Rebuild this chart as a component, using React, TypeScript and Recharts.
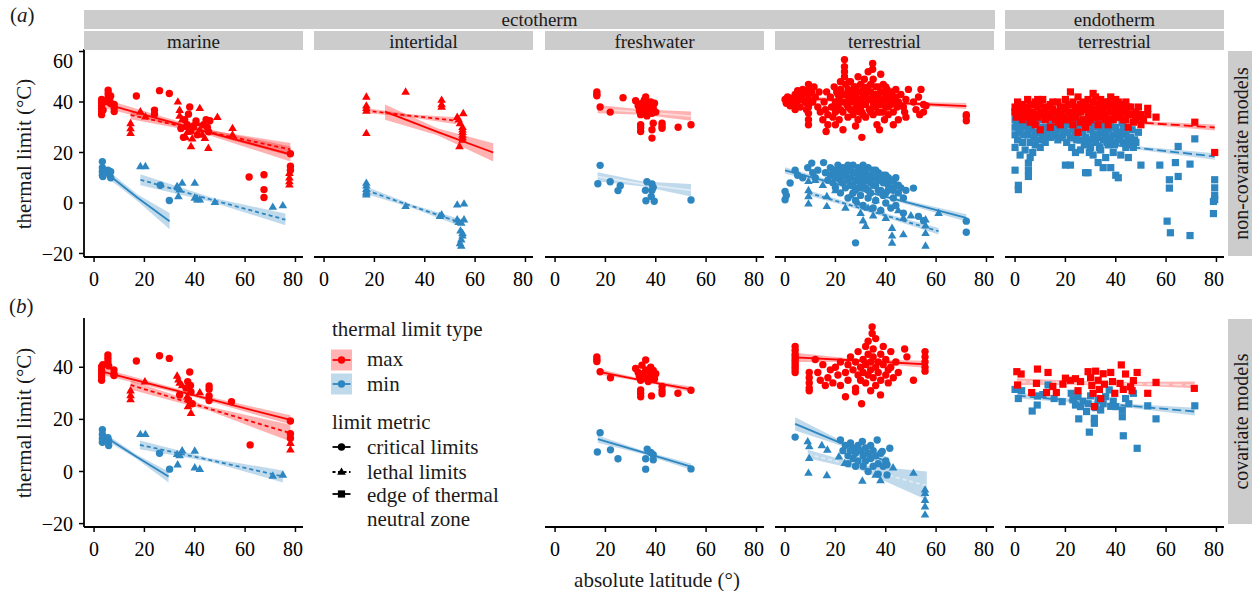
import React from "react";
import { ComposedChart, Scatter, Line, Area, XAxis, YAxis } from "recharts";

type Pt = [number, number];
type FitRow = [number, number, number, number]; // latitude, fit, lower, upper

const RED = "#FF0000";
const BLUE = "#2E86C1";
const FONT = '"Liberation Serif", "DejaVu Serif", "Times New Roman", serif';

const GROUPS = ["ectotherm", "endotherm"];
const HABITATS = ["marine", "intertidal", "freshwater", "terrestrial", "terrestrial"];
const MODELS = ["non-covariate models", "covariate models"];
const X_TICKS = [0, 20, 40, 60, 80];
const Y_TICKS = [
  [-20, 0, 20, 40, 60],
  [-20, 0, 20, 40],
];

// ---------- (a) non-covariate models ----------
const marineA_maxCrit: Pt[] = [
  [3, 35], [3, 36.2], [3, 37.4], [3, 38.6], [3, 39.8], [3, 41], [3.6, 36.8], [4, 40.2],
  [5.6, 44.7], [5.6, 43.3], [5.6, 41.9], [6.2, 40.6], [6.6, 42.4], [6.6, 39.4],
  [8, 39], [8, 37.6], [8, 36.2], [16.8, 42.4], [24, 36.8], [24, 35.2], [26, 44.5], [29.9, 43.4],
  [34.5, 29.5], [35.5, 26], [36, 33], [37, 31], [37.5, 35.2], [38, 38], [38.5, 28.5], [39.5, 30.5],
  [40.5, 32.5], [41, 27], [43.5, 31], [44.5, 33], [45, 30], [45.5, 28.2], [46, 32.6],
  [61.6, 10.3], [67.5, 11.2], [67.5, 5.3], [67.5, 2.2], [78, 19.5], [78, 14.6], [78, 13],
];
const marineA_maxLeth: Pt[] = [
  [14.5, 31.5], [14.5, 29.5], [14.5, 27.6], [18.4, 36.2], [20.4, 34.2], [33.3, 40.1], [34, 36.8],
  [34, 34.5], [35, 33], [36, 30], [36.5, 26], [37, 28], [38.5, 22.4], [39, 25.5], [42, 37.5],
  [41, 31.5], [42, 29], [43, 27], [44, 25.7], [45.4, 21.7], [44, 31], [49, 34], [55, 29.6],
  [55, 27], [77.6, 11.8], [77.6, 10], [77.6, 8.5], [77.6, 7.2],
];
const marineA_minCrit: Pt[] = [
  [3.3, 16.4], [3.3, 14], [3.3, 12.5], [3.3, 11], [3.5, 10.5], [5.5, 13], [6, 11.6], [6.6, 10],
  [6.6, 12.4], [26.3, 7], [29.9, 1],
];
const marineA_minLeth: Pt[] = [
  [18.4, 14.5], [20.4, 14.5], [33, 6.6], [34, 5.3], [35, 7.9], [33.5, 2.6], [40, 7.9], [40, 2],
  [41, 1.3], [42, 1.3], [48, 0.3], [71, -1.6], [75, -1],
];
const marineA_fitMaxCrit: FitRow[] = [[4, 39.4, 37.6, 41.2], [41, 29.2, 28.3, 30.1], [78, 19.3, 16.4, 22.4]];
const marineA_fitMaxLeth: FitRow[] = [[14.5, 34.8, 33.2, 36.4], [46, 28, 27.2, 28.8], [78, 21.2, 18.6, 23.8]];
const marineA_fitMinCrit: FitRow[] = [[5, 11.8, 10.2, 13.4], [17, 2.3, 1, 3.6], [30, -7.2, -10.4, -4]];
const marineA_fitMinLeth: FitRow[] = [[18.4, 9.2, 7, 11.4], [47, 1.2, 0.3, 2.1], [76, -6.6, -8.8, -4.2]];

const interA_maxLeth: Pt[] = [
  [16.8, 42], [16.8, 38.5], [16.8, 37.5], [16.8, 36.5], [16.8, 27.6], [32.4, 44], [46.7, 40.8],
  [46.7, 39], [46.7, 38], [52.9, 34], [53.5, 33], [55.3, 35.5], [54, 31.5], [55, 30], [55, 29],
  [55, 28], [55, 27], [55, 26], [55, 25], [53.8, 22.4],
];
const interA_minLeth: Pt[] = [
  [16.8, 7.9], [16.8, 6.8], [16.8, 5.5], [16.8, 4.5], [16.8, 4], [16.8, 3.3], [32.4, -1.3],
  [46.7, -4.6], [46, -5.2], [52.9, -0.7], [55.6, -0.3], [52.9, -6.6], [53.5, -7.6], [55.6, -6.6],
  [54.5, -7.9], [54.2, -11], [55, -12], [55, -13], [54.5, -14.5], [54, -16], [54.5, -17],
];
const interA_fitMaxLeth: FitRow[] = [[16.5, 36.6, 35.6, 37.6], [34, 34.6, 34, 35.2], [52.5, 32.6, 31.2, 34]];
const interA_fitMaxCrit: FitRow[] = [[24.2, 36.2, 33, 39], [45, 28.2, 26.8, 29.6], [67.2, 20, 16.4, 23.7]];
const interA_fitMinLeth: FitRow[] = [[16.8, 5, 3.6, 6.4], [35, -1.3, -2, -0.6], [53.6, -7.6, -9, -6.2]];

const freshA_maxCrit: Pt[] = [
  [16.6, 44], [16.6, 43], [16.6, 42.5], [17.9, 38], [21.9, 36], [27, 41.7], [32, 40.5], [33, 38.5],
  [33.5, 36.5], [34, 35], [34.5, 39.5], [35, 37.5], [35.5, 40.8], [36, 42], [36, 36], [36.5, 34.5],
  [37, 38.5], [37.5, 36.8], [38, 40], [38.5, 35.5], [39, 37.5], [39.5, 39.5], [40, 36], [34, 31],
  [34, 29.8], [34, 28.3], [38.5, 29], [38.5, 25.7], [39, 31.6], [42.5, 31.6], [42.5, 30.5],
  [42.5, 29.6], [48.9, 30], [54, 31],
];
const freshA_minCrit: Pt[] = [
  [17.9, 14.9], [17, 7.6], [21.9, 8.4], [25.9, 6.8], [25, 4.9], [36.5, 8.4], [38.5, 7.5], [39, 6.2],
  [38.5, 5], [35.9, 5], [38.2, 2.6], [36.1, 0.9], [39.4, 0.7], [54, 1.2],
];
const freshA_fitMaxCrit: FitRow[] = [[16.9, 37.2, 35.5, 38.8], [35, 36, 35, 37], [54, 34.4, 32.6, 36.2]];
const freshA_fitMinCrit: FitRow[] = [[16.9, 10.4, 8.6, 12.2], [35, 7.5, 6.5, 8.5], [54, 5, 2.6, 7.5]];

const terrA_maxCrit: Pt[] = [
  [0, 41], [0.5, 39.5], [1, 42], [1.5, 40], [2, 41.5], [2, 38.5], [3.5, 40], [4, 43], [4, 37],
  [4.5, 39], [5, 42], [5, 44.5], [5, 40.5], [6, 38], [6.5, 41], [7, 45], [7, 43], [8, 40], [8.5, 37],
  [9, 39], [9.3, 47], [9.3, 45], [9.3, 43], [9.3, 41], [9.3, 38], [9.3, 35.5], [9.3, 33], [9.3, 31],
  [10.5, 44], [11, 40], [11.5, 46], [12, 42], [13, 38], [13.5, 44], [14, 36], [15, 33], [15.5, 40],
  [16, 37], [16.3, 28.3], [16.5, 44], [17, 35], [17, 31], [18, 42], [18.5, 38], [19, 34], [19.5, 46],
  [20, 40], [20, 36], [20, 31], [21, 43], [21, 38], [21.5, 33], [22, 48], [22, 45], [22.5, 40],
  [23, 36], [23, 29], [23.6, 56.8], [23.6, 54], [23.6, 52], [23.6, 50], [24, 47], [24, 43],
  [24.5, 39], [25, 45], [25, 34], [25.5, 41], [26, 37], [26, 48], [26.5, 44], [27, 40], [27, 35],
  [27.5, 46], [28, 42], [28, 30.5], [28.5, 38], [29, 50], [29, 44], [29, 33], [30, 41], [30, 47],
  [30.5, 26], [30.5, 36], [31, 43], [31, 39], [31.5, 49], [32, 45], [32, 34], [33, 41], [33, 52],
  [33.5, 37], [34, 44], [34, 47], [34.8, 55.3], [34.8, 53], [35, 40], [35, 35], [35, 49], [36, 43],
  [36, 38], [36.5, 31], [37, 46], [37, 41], [37.5, 29], [38, 44], [38, 36], [38, 51], [39, 40],
  [39, 47], [39.5, 33], [40, 43], [40, 38], [40.5, 45], [41, 35], [41, 41], [42, 39], [42.5, 44],
  [43, 36], [43, 31], [44, 42], [44.5, 38], [45, 40], [45, 33], [46, 43], [47, 38], [47.5, 36],
  [48, 41], [48, 34], [49, 45], [51, 40], [52, 37], [53, 42], [53.5, 35], [54, 45], [55, 39],
  [55, 36], [56, 38.5], [72, 35], [72, 32.6], [72, 34.3],
  [20.5, 44], [21.5, 41], [22, 37], [23, 43], [24, 40], [25, 38], [25.5, 48], [26, 42], [27, 44],
  [27.5, 37], [28, 46], [28.5, 41], [29, 39], [29.5, 36], [30, 44], [30, 38], [31, 46], [31, 35],
  [32, 42], [32, 39], [33, 44], [33, 46], [34, 41], [34, 36], [35, 43], [35, 38], [36, 46], [36, 40],
  [37, 36], [37, 43], [38, 41], [38, 39], [39, 44], [39, 36], [40, 41], [40, 46], [41, 38], [42, 42],
  [43, 40], [44, 45],
];
const terrA_minCrit: Pt[] = [
  [0, 4.6], [0, 1.3], [0.5, 3], [2, 7.9], [4, 13], [5, 11], [7, 10], [9, 14], [10.6, 15.8], [11, 12],
  [12, 10], [13, 13], [15.3, 16], [16, 12], [17, 9], [18, 14], [18, 11], [19, 8], [20, 13], [20, 6],
  [21, 15], [21, 10], [22, 12], [22, 4], [23, 14], [23, 8], [24, 11], [24, 6], [25, 15], [25, 13],
  [25, 2], [26, 10], [26, 7], [27, 15], [27, 12], [27, 4], [28, 9], [28, -15.8], [28, 1], [29, 14],
  [29, 11], [29, 6], [30, 13], [30, 8], [30, 3], [31, 15], [31, 10], [31, -1], [32, 12], [32, 6],
  [33, 14], [33, 9], [33, 2], [34, 11], [34, 4], [35, 13], [35, 7], [35, -2], [36, 10], [36, 1],
  [37, 12], [37, 5], [38, 9], [38, -3], [39, 11], [39, 3], [40, 8], [40, 0], [41, 10], [41, 5],
  [42, 6], [42, -2], [43, 9], [43, 2], [44, 7], [44, -1], [45, 4], [46, 6], [47, 2], [47, -4],
  [48, 5], [51, 5.9], [53, -5.3], [55, -7], [72, -7.2], [72, -11.6],
  [19, 12], [20, 10], [21, 13], [22, 9], [23, 11], [24, 13], [25, 9], [26, 13], [27, 7], [28, 12],
  [28, 5], [29, 9], [30, 11], [30, 6], [31, 13], [31, 7], [32, 9], [33, 11], [33, 5], [34, 8], [35, 10],
  [36, 13], [36, 7], [37, 9], [38, 11], [38, 5], [39, 8], [40, 11], [40, 4], [41, 7], [42, 9], [43, 5],
  [44, 10], [45, 7],
];
const terrA_minLeth: Pt[] = [
  [9.3, 8.6], [9.3, 5], [9.3, 2.6], [9.3, -0.3], [12, 9], [15, 7], [16.6, 2.6], [16.6, -1.3], [20, 5],
  [24, -2], [26, 3], [29, 0], [30, -4], [31, -7], [32, -9.2], [33, -2], [35, -5], [36, 1], [38, -3],
  [40, -6], [42.5, -10], [42.5, -13], [42.5, -15.8], [45, -3], [47, -6], [47, -12.5], [50, -5],
  [55.8, -6.6], [55.8, -9], [55.8, -12], [55.8, -17], [61, -4],
];
const terrA_fitMaxCrit: FitRow[] = [[0, 41.7, 40.5, 42.9], [36, 40, 39.6, 40.4], [72, 38.4, 37.2, 39.6]];
const terrA_fitMinCrit: FitRow[] = [[0, 12.9, 11.6, 14.2], [36, 3.5, 3, 4], [72, -5.9, -7.3, -4.5]];
const terrA_fitMinLeth: FitRow[] = [[9.3, 4, 3, 5], [35, -3.5, -4.2, -2.8], [61, -11.2, -12.5, -9.9]];

const endoA_maxEdge: Pt[] = [
  [0, 38], [0, 36], [0.5, 34], [1, 40], [2, 37], [3, 39], [3, 33], [4, 35], [5, 41], [5, 37], [6, 32],
  [6, 39], [7, 36], [8, 40], [8, 31], [9, 38], [9, 34], [10, 29], [10, 36], [11, 41], [12, 38],
  [12, 33], [13, 35], [14, 39], [14, 30], [15, 37], [16, 33], [17, 40], [17, 36], [18, 38], [18, 31],
  [19, 34], [20, 41], [20, 37], [21, 39], [21, 33], [22, 44], [22, 36], [23, 40], [23, 31], [24, 38],
  [24, 34], [25, 42], [25, 28], [26, 36], [26, 39], [27, 33], [27, 40], [28, 37], [28, 30], [29, 41],
  [29, 35], [30, 38], [30, 33], [31, 43.4], [31, 40], [31, 36], [32, 42], [32, 34], [33, 39], [33, 31],
  [34, 37], [34, 41], [35, 35], [35, 39], [36, 33], [36, 40], [37, 38], [37, 31], [38, 42], [38, 36],
  [39, 39], [39, 33], [40, 41], [40, 35], [41, 37], [41, 40], [42, 34], [42, 38], [43, 36], [43, 39],
  [44, 33], [44, 37], [45, 38], [45, 30], [46, 35], [47, 32], [48, 36], [49, 34], [50, 31],
  [52.7, 37.5], [52.7, 35], [56, 34], [71.4, 32], [79.3, 20],
  [1, 35], [2, 39], [3, 36], [4, 38], [5, 34], [6, 36], [7, 39], [7, 33], [8, 35], [9, 41], [10, 39],
  [11, 35], [12, 36], [13, 38], [14, 34], [15, 40], [16, 36], [17, 32], [18, 35], [19, 38], [20, 33],
  [21, 36], [22, 39], [23, 34], [24, 36], [25, 37], [26, 32], [27, 37], [28, 39], [29, 32], [30, 36],
  [31, 34], [32, 37], [33, 36], [34, 34], [35, 37], [36, 35], [37, 40], [38, 33], [39, 36], [40, 38],
  [41, 34], [42, 36], [43, 33], [44, 40], [45, 35], [46, 38], [47, 35], [48, 33], [49, 38], [50, 35],
  [51, 33],
];
const endoA_minEdge: Pt[] = [
  [0, 36], [0, 33], [0, 30], [0, 27], [0, 22], [0, 13], [1, 34], [1, 25], [1.3, 7], [1.3, 5.3], [2, 31],
  [2, 28], [2, 19], [3, 35], [3, 24], [4, 30], [4, 21], [5, 33], [5, 27], [5.3, 15.8], [5.3, 10.5],
  [5.3, 13], [6, 24], [6, 18], [7, 32], [7, 20], [8, 28], [8, 23], [9, 35], [9, 25], [10, 30], [10, 22],
  [11, 33], [11, 27], [12, 24], [13, 34], [13, 29], [14, 31], [14, 26], [15, 35], [15, 28], [16, 32],
  [16, 27], [17, 25], [18, 30], [18, 33], [19, 27], [20, 31], [20, 15], [21, 28], [21, 34], [22, 26],
  [22, 15], [23, 32], [23, 29], [24, 27], [24, 20], [25, 34], [25, 30], [26, 25], [26, 21], [27, 31],
  [27, 28], [28, 26], [28, 12], [29, 33], [29, 24], [29, 12], [30, 29], [30, 22], [31, 35], [31, 27],
  [31, 19], [32, 30], [32, 24], [33, 26], [33, 16], [34, 32], [34, 28], [34, 21], [35, 25], [35, 14],
  [36, 31], [36, 27], [36, 18], [37, 23], [37, 29], [38, 33], [38, 25], [38, 14], [39, 27], [39, 20],
  [40, 30], [40, 24], [40, 11], [41, 26], [41, 10], [42, 28], [42, 19], [43, 24], [43, 30], [44, 22],
  [44, 27], [45, 25], [45, 18], [46, 26], [47, 22], [48, 24], [50, 15], [57.5, 15], [60.4, -7.2],
  [61.7, -11.8], [61.3, 9.2], [61.3, 5.9], [63.7, 16], [64.8, 22.4], [64.8, 10.5], [69.5, -12.9],
  [69.5, 15.4], [71.4, 25.4], [79.3, 9.2], [79.3, 6], [79.3, 3], [79.3, 1.3], [78.8, 0.6], [78.8, -4.2],
  [0.5, 31], [1.5, 29], [2.5, 33], [3.5, 27], [4.5, 32], [5.5, 29], [6.5, 30], [7.5, 26], [8.5, 32],
  [9.5, 28], [10.5, 34], [11.5, 25], [12.5, 30], [13.5, 27], [14.5, 33], [15.5, 30], [16.5, 29],
  [17.5, 33], [18.5, 26], [19.5, 29], [20.5, 24], [21.5, 31], [22.5, 22], [23.5, 30], [24.5, 25],
  [25.5, 32], [26.5, 28], [27.5, 23], [28.5, 30], [29.5, 20], [30.5, 25], [31.5, 31], [32.5, 27],
  [33.5, 22], [34.5, 30], [35.5, 28], [36.5, 24], [37.5, 26], [38.5, 30], [39.5, 23], [40.5, 28],
  [41.5, 25], [42.5, 32], [43.5, 27], [44.5, 30], [45.5, 23], [46.5, 29], [47.5, 25], [49, 28],
];
const endoA_fitMaxEdge: FitRow[] = [[0, 35, 34, 36], [40, 32.5, 32, 33], [79.3, 29.9, 28.7, 31.1]];
const endoA_fitMinEdge: FitRow[] = [[0, 27.3, 26, 28.6], [40, 22.8, 22.3, 23.3], [79.3, 18.4, 17.1, 19.7]];

// ---------- (b) covariate models ----------
const marineB_maxCrit: Pt[] = [
  [3, 35], [3, 36.3], [3, 37.6], [3, 38.9], [3, 40.2], [3.5, 41], [5.5, 44.7], [5.5, 43.4], [5.5, 42],
  [5.8, 40.5], [7.9, 39], [7.9, 37.5], [7.9, 36.8], [16.8, 42.4], [26, 44.4], [29.9, 43.4], [34, 29.4],
  [36.5, 32], [37.2, 34.5], [37.5, 27.5], [38, 38.2], [38.3, 33], [38.5, 30.5], [39, 26], [45.7, 32.8],
  [45.7, 31.6], [45.7, 29], [45.7, 27.2], [54.6, 26.8], [62, 10.2], [78, 19.4], [78, 14.5], [78, 12.8],
];
const marineB_maxLeth: Pt[] = [
  [14.5, 31], [14.5, 29.2], [14.5, 27.6], [20.2, 34.5], [33, 36.7], [33.5, 35.2], [34, 34], [35, 33],
  [37, 28.7], [37.3, 25], [38.5, 22.4], [38.8, 26], [42, 30.3], [78, 10.9], [78, 8.4],
];
const marineB_minCrit: Pt[] = [
  [3.3, 16], [3.3, 14.2], [3.3, 12.6], [3.3, 11.2], [5.5, 13], [5.8, 11.8], [5.8, 10], [26, 7], [30, 0.9],
];
const marineB_minLeth: Pt[] = [
  [18.4, 14.3], [20.4, 14.3], [33, 6.6], [33.2, 2.6], [34, 6.2], [35, 8], [40, 7.9], [40, 1.5], [42, 0.9],
  [71, -1.7], [75, -1.3],
];
const marineB_fitMaxCrit: FitRow[] = [[3.3, 38.3, 37, 39.6], [40, 29.2, 28.5, 29.9], [78, 19.8, 18, 21.6]];
const marineB_fitMaxLeth: FitRow[] = [[14.5, 33.2, 31.5, 34.9], [46, 24, 23.2, 24.8], [78, 14.7, 11.5, 17.9]];
const marineB_fitMinCrit: FitRow[] = [[5.3, 12.8, 11.6, 14], [17, 5.6, 4.8, 6.4], [29.6, -1.9, -4.2, 0]];
const marineB_fitMinLeth: FitRow[] = [[18.2, 10.2, 8.5, 11.9], [46, 4.4, 3.7, 5.1], [75, -1.9, -4.2, 0.4]];

const freshB_maxCrit: Pt[] = [
  [16.6, 44], [16.6, 43], [16.6, 42.2], [17.9, 38.3], [22, 36], [32, 39.5], [33, 38], [33.5, 36.5],
  [34, 35], [34.5, 40.8], [35, 37.5], [36, 42.8], [36, 39], [36.5, 36], [37, 34.5], [37.5, 38.5],
  [38, 40], [38.5, 36.5], [39, 38.8], [39.5, 35.5], [40, 37.5], [34, 31.3], [34, 30], [34, 28.7],
  [38.3, 29], [42.5, 32.6], [42.5, 31], [42.5, 29.8], [48.8, 30], [54, 31.2],
];
const freshB_minCrit: Pt[] = [
  [17.9, 14.9], [16.8, 7.5], [22, 8.3], [25, 4.9], [36.6, 8.6], [38, 7.3], [39, 6.4], [39, 4.5], [36, 4.9],
  [36, 0.9], [54, 1],
];
const freshB_fitMaxCrit: FitRow[] = [[17, 38.3, 37.2, 39.4], [35, 34.9, 34.4, 35.4], [54, 31.5, 30.4, 32.6]];
const freshB_fitMinCrit: FitRow[] = [[17, 12.4, 11, 13.8], [35, 7.3, 6.6, 8], [54, 1.9, 0.7, 3.1]];

const terrB_maxCrit: Pt[] = [
  [4, 48], [4, 46.5], [4, 45], [4, 44], [4, 43], [4, 42], [4, 41], [4, 40], [4, 39], [4, 38], [9.6, 38],
  [9.6, 36], [9.6, 34], [9.6, 32], [9.6, 31], [12, 43], [13, 38], [14, 35], [15, 41], [16, 33], [17, 36],
  [18, 39], [19, 34], [20, 40], [21, 37], [22, 42], [22, 33], [24, 28.7], [24, 38], [25, 41], [25, 35],
  [26, 44], [27, 39], [28, 32], [28, 30.6], [28, 42], [29, 37], [29, 46], [30, 40], [30, 35], [30.4, 26],
  [31, 43], [31, 38], [32, 48], [32, 41], [32, 34], [33, 45], [33, 37], [33, 50], [34, 42], [34, 39],
  [34, 31], [34.6, 55.5], [34.6, 53], [35, 47], [35, 44], [35, 36], [36, 40], [36, 33], [36, 51], [37, 42],
  [37, 38], [37.9, 29.4], [38, 45], [38, 35], [39, 41], [39, 48], [40, 37], [40, 43], [41, 39], [41, 34],
  [42, 46], [42, 40], [43, 36], [44, 42], [45, 38], [47.5, 47], [48.4, 44], [51, 35], [55.6, 46],
  [55.6, 44], [55.6, 42], [55.6, 40], [55.6, 38.5],
];
const terrB_minCrit: Pt[] = [
  [4, 13.2], [22, 12.1], [23, 8], [24, 10], [25, 6], [25, 3], [26, 11], [26, 8], [27, 9], [27, 5], [28, 7],
  [28, 2], [29, 10], [29, 4], [30, 8], [30.7, 11.5], [31, 6], [31, 2], [32, 9], [32, 4], [33, 7], [33, 0],
  [34, 10], [34, 5], [35, 8], [35, 2], [36, 6], [36.6, 12.1], [37, 3], [37, -1], [38, 7], [38.6, 7.7],
  [39, 2], [40, 4], [40.5, 2.6], [40.5, -1.3], [41.6, 8.9],
];
const terrB_minLeth: Pt[] = [
  [9, 11.5], [9.6, 9.6], [9.6, 5.1], [9.3, -0.6], [14.6, 10], [16.6, -1.5], [16.8, 8.3], [21.4, 5.7],
  [23.7, 3.2], [30.7, -3.6], [36, -1.3], [37.9, -3.4], [42.9, 1.5], [51, -0.6], [55.6, -7], [55.6, -8.3],
  [55.6, -11], [55.6, -13.5], [55.6, -16.6],
];
const terrB_fitMaxCrit: FitRow[] = [[4, 43.8, 42, 45.6], [30, 42.5, 42, 43], [56.3, 41.1, 39.7, 42.5]];
const terrB_fitMinCrit: FitRow[] = [[4, 18.3, 15.7, 20.8], [22, 11, 10, 12], [41.4, 3.4, 1.4, 5.4]];
const terrB_fitMinLeth: FitRow[] = [[9, 6.7, 5.1, 8.3], [30, 1.5, 0.5, 2.5], [56.3, -5.5, -10.9, 0]];

const endoB_maxEdge: Pt[] = [
  [0.7, 38.3], [2.4, 37.4], [1, 33.2], [8.9, 39.3], [8.5, 33.8], [6.6, 30.3], [13.1, 38], [12.5, 30.3],
  [15, 32.6], [16.4, 30.3], [19, 33.5], [20, 35.8], [22, 35], [24, 35.6], [26, 34.5], [25, 31], [29, 38.3],
  [30, 36], [30.5, 33], [31, 30], [31.5, 24.9], [32, 38.5], [33, 35], [33.5, 31.5], [34, 28], [35, 37.5],
  [35.5, 33.5], [38, 38], [38.7, 34.5], [39.6, 30], [42.2, 40.9], [43.9, 37.4], [41.7, 33.8], [43, 31.5],
  [45.9, 32.5], [47, 34.9], [48.5, 38], [46.5, 31], [52.7, 30], [56, 34.2], [71.2, 31.9],
];
const endoB_minEdge: Pt[] = [
  [0, 31.5], [1.3, 28], [2.6, 31], [6.8, 23.2], [8.8, 25.5], [8.9, 29], [13.1, 33.2], [11, 29.5],
  [15.5, 28], [18.7, 26.8], [22.3, 30], [23, 27.5], [24, 25.5], [25, 28.7], [26, 24.9], [25.3, 20.2],
  [27, 27], [28.4, 23], [29.5, 15.1], [29, 26], [30, 29], [31.5, 20.4], [31.5, 18.5], [32, 24.5],
  [33, 27.5], [34, 23.6], [35, 26], [36, 28.7], [37.4, 31.3], [38, 25], [39, 27], [40, 24.9], [42.6, 23.6],
  [42.6, 21], [43, 13.7], [43.9, 28], [45.2, 26], [47, 30], [48.5, 8.9], [52.7, 25.2], [56, 20.2],
  [71.4, 25.2],
];
const endoB_fitMaxEdge: FitRow[] = [[0.7, 34.5, 33.2, 35.8], [36, 33.8, 33.3, 34.3], [71.4, 33.2, 32, 34.5]];
const endoB_fitMinEdge: FitRow[] = [[0.7, 29.1, 28, 30.2], [36, 26, 25.5, 26.5], [71.4, 23, 21.5, 24.5]];

// ---------- layout ----------
const PANEL_LEFT = [84, 314, 545, 775, 1005];
const PANEL_W = 219;
const PANEL_TOP = [49, 318];
const PANEL_H = [208, 209];
const X_DOMAIN: [number, number] = [-4, 83];
const Y_DOMAIN: [number, number][] = [
  [-21.4, 61],
  [-21.3, 58.9],
];
const Y_AXIS_W = 60;
const X_AXIS_H = 42;

type Kind = "max" | "min";
type Metric = "crit" | "leth" | "edge";
interface Series { pts: Pt[]; kind: Kind; metric: Metric }
interface Fit { rows: FitRow[]; kind: Kind; metric: Metric; sig: boolean }
interface PanelCfg { row: number; col: number; series: Series[]; fits: Fit[] }

const PANELS: PanelCfg[] = [
  {
    row: 0, col: 0,
    series: [
      { pts: marineA_minCrit, kind: "min", metric: "crit" },
      { pts: marineA_minLeth, kind: "min", metric: "leth" },
      { pts: marineA_maxCrit, kind: "max", metric: "crit" },
      { pts: marineA_maxLeth, kind: "max", metric: "leth" },
    ],
    fits: [
      { rows: marineA_fitMinCrit, kind: "min", metric: "crit", sig: true },
      { rows: marineA_fitMinLeth, kind: "min", metric: "leth", sig: true },
      { rows: marineA_fitMaxCrit, kind: "max", metric: "crit", sig: true },
      { rows: marineA_fitMaxLeth, kind: "max", metric: "leth", sig: true },
    ],
  },
  {
    row: 0, col: 1,
    series: [
      { pts: interA_minLeth, kind: "min", metric: "leth" },
      { pts: interA_maxLeth, kind: "max", metric: "leth" },
    ],
    fits: [
      { rows: interA_fitMinLeth, kind: "min", metric: "leth", sig: true },
      { rows: interA_fitMaxLeth, kind: "max", metric: "leth", sig: true },
      { rows: interA_fitMaxCrit, kind: "max", metric: "crit", sig: true },
    ],
  },
  {
    row: 0, col: 2,
    series: [
      { pts: freshA_minCrit, kind: "min", metric: "crit" },
      { pts: freshA_maxCrit, kind: "max", metric: "crit" },
    ],
    fits: [
      { rows: freshA_fitMinCrit, kind: "min", metric: "crit", sig: false },
      { rows: freshA_fitMaxCrit, kind: "max", metric: "crit", sig: false },
    ],
  },
  {
    row: 0, col: 3,
    series: [
      { pts: terrA_minCrit, kind: "min", metric: "crit" },
      { pts: terrA_minLeth, kind: "min", metric: "leth" },
      { pts: terrA_maxCrit, kind: "max", metric: "crit" },
    ],
    fits: [
      { rows: terrA_fitMinCrit, kind: "min", metric: "crit", sig: true },
      { rows: terrA_fitMinLeth, kind: "min", metric: "leth", sig: true },
      { rows: terrA_fitMaxCrit, kind: "max", metric: "crit", sig: true },
    ],
  },
  {
    row: 0, col: 4,
    series: [
      { pts: endoA_minEdge, kind: "min", metric: "edge" },
      { pts: endoA_maxEdge, kind: "max", metric: "edge" },
    ],
    fits: [
      { rows: endoA_fitMinEdge, kind: "min", metric: "edge", sig: true },
      { rows: endoA_fitMaxEdge, kind: "max", metric: "edge", sig: true },
    ],
  },
  {
    row: 1, col: 0,
    series: [
      { pts: marineB_minCrit, kind: "min", metric: "crit" },
      { pts: marineB_minLeth, kind: "min", metric: "leth" },
      { pts: marineB_maxCrit, kind: "max", metric: "crit" },
      { pts: marineB_maxLeth, kind: "max", metric: "leth" },
    ],
    fits: [
      { rows: marineB_fitMinCrit, kind: "min", metric: "crit", sig: true },
      { rows: marineB_fitMinLeth, kind: "min", metric: "leth", sig: true },
      { rows: marineB_fitMaxCrit, kind: "max", metric: "crit", sig: true },
      { rows: marineB_fitMaxLeth, kind: "max", metric: "leth", sig: true },
    ],
  },
  {
    row: 1, col: 2,
    series: [
      { pts: freshB_minCrit, kind: "min", metric: "crit" },
      { pts: freshB_maxCrit, kind: "max", metric: "crit" },
    ],
    fits: [
      { rows: freshB_fitMinCrit, kind: "min", metric: "crit", sig: true },
      { rows: freshB_fitMaxCrit, kind: "max", metric: "crit", sig: true },
    ],
  },
  {
    row: 1, col: 3,
    series: [
      { pts: terrB_minCrit, kind: "min", metric: "crit" },
      { pts: terrB_minLeth, kind: "min", metric: "leth" },
      { pts: terrB_maxCrit, kind: "max", metric: "crit" },
    ],
    fits: [
      { rows: terrB_fitMinLeth, kind: "min", metric: "leth", sig: false },
      { rows: terrB_fitMinCrit, kind: "min", metric: "crit", sig: true },
      { rows: terrB_fitMaxCrit, kind: "max", metric: "crit", sig: true },
    ],
  },
  {
    row: 1, col: 4,
    series: [
      { pts: endoB_minEdge, kind: "min", metric: "edge" },
      { pts: endoB_maxEdge, kind: "max", metric: "edge" },
    ],
    fits: [
      { rows: endoB_fitMinEdge, kind: "min", metric: "edge", sig: true },
      { rows: endoB_fitMaxEdge, kind: "max", metric: "edge", sig: false },
    ],
  },
];

const colorOf = (k: Kind) => (k === "max" ? RED : BLUE);
const DASH: Record<Metric, string | undefined> = { crit: undefined, leth: "4 3", edge: "9 4" };

const fmtTick = (v: number) => (v < 0 ? `\u2212${Math.abs(v)}` : `${v}`);

function Marker({ cx, cy, metric, color }: { cx: number; cy: number; metric: Metric; color: string }) {
  if (metric === "crit") return <circle cx={cx} cy={cy} r={3.7} fill={color} />;
  if (metric === "leth")
    return <polygon points={`${cx},${cy - 4.6} ${cx - 4.3},${cy + 2.8} ${cx + 4.3},${cy + 2.8}`} fill={color} />;
  return <rect x={cx - 3.6} y={cy - 3.6} width={7.2} height={7.2} fill={color} />;
}

const shapeFor = (metric: Metric, color: string) => (p: any) => {
  if (p.cx == null || p.cy == null) return <g />;
  return <Marker cx={p.cx} cy={p.cy} metric={metric} color={color} />;
};

function Panel({ cfg }: { cfg: PanelCfg }) {
  const hasY = cfg.col === 0;
  const yw = hasY ? Y_AXIS_W : 0;
  const tickStyle = { fill: "#000", fontSize: 20, fontFamily: FONT };
  return (
    <div style={{ position: "absolute", left: PANEL_LEFT[cfg.col] - yw, top: PANEL_TOP[cfg.row] }}>
      <ComposedChart
        width={PANEL_W + yw}
        height={PANEL_H[cfg.row] + X_AXIS_H}
        margin={{ top: 0, right: 0, bottom: 0, left: 0 }}
      >
        <XAxis
          type="number"
          dataKey="x"
          domain={X_DOMAIN}
          ticks={X_TICKS}
          allowDataOverflow
          height={X_AXIS_H}
          tick={tickStyle}
          tickSize={5}
          tickMargin={10}
          axisLine={{ stroke: "#000", strokeWidth: 1.8 }}
          tickLine={{ stroke: "#000", strokeWidth: 1.5 }}
        />
        <YAxis
          type="number"
          dataKey="y"
          domain={Y_DOMAIN[cfg.row]}
          ticks={Y_TICKS[cfg.row]}
          allowDataOverflow
          hide={!hasY}
          width={yw}
          tick={tickStyle}
          tickFormatter={fmtTick}
          tickSize={5}
          tickMargin={6}
          axisLine={{ stroke: "#000", strokeWidth: 1.8 }}
          tickLine={{ stroke: "#000", strokeWidth: 1.5 }}
        />
        {cfg.fits.map((f, i) => (
          <Area
            key={`band${i}`}
            data={f.rows.map(([x, y, lo, hi]) => ({ x, y, band: [lo, hi] }))}
            dataKey="band"
            type="linear"
            stroke="none"
            fill={colorOf(f.kind)}
            fillOpacity={0.3}
            dot={false}
            activeDot={false}
            isAnimationActive={false}
          />
        ))}
        {cfg.fits.map((f, i) => (
          <Line
            key={`fit${i}`}
            data={f.rows.map(([x, y]) => ({ x, y }))}
            dataKey="y"
            type="linear"
            stroke={f.sig ? colorOf(f.kind) : "#FFFFFF"}
            strokeOpacity={f.sig ? 1 : 0.5}
            strokeWidth={1.8}
            strokeDasharray={DASH[f.metric]}
            dot={false}
            activeDot={false}
            isAnimationActive={false}
          />
        ))}
        {cfg.series.map((s, i) => (
          <Scatter
            key={`pts${i}`}
            data={s.pts.map(([x, y]) => ({ x, y }))}
            dataKey="y"
            shape={shapeFor(s.metric, colorOf(s.kind))}
            isAnimationActive={false}
          />
        ))}
      </ComposedChart>
    </div>
  );
}

function LegendKey({ x, y, metric, color, bg }: { x: number; y: number; metric: Metric; color: string; bg?: string }) {
  return (
    <g>
      {bg && <rect x={x} y={y - 10.5} width={21} height={21} fill={bg} />}
      <line
        x1={x + 1.5}
        x2={x + 19.5}
        y1={y}
        y2={y}
        stroke={color}
        strokeWidth={1.8}
        strokeDasharray={metric === "leth" ? "3 2.5" : undefined}
      />
      <Marker cx={x + 10.5} cy={y} metric={metric} color={color} />
    </g>
  );
}

function Overlay() {
  const stripFill = "#CCCCCC";
  const textProps = { fontFamily: FONT, fill: "#1A1A1A" };
  return (
    <svg
      width={1252}
      height={591}
      style={{ position: "absolute", left: 0, top: 0, pointerEvents: "none" }}
    >
      {/* facet strips */}
      <rect x={84} y={10} width={995 - 84} height={19} fill={stripFill} />
      <text x={(84 + 995) / 2} y={25.5} textAnchor="middle" fontSize={19} {...textProps}>
        {GROUPS[0]}
      </text>
      <rect x={1005} y={10} width={PANEL_W} height={19} fill={stripFill} />
      <text x={1005 + PANEL_W / 2} y={25.5} textAnchor="middle" fontSize={19} {...textProps}>
        {GROUPS[1]}
      </text>
      {HABITATS.map((h, i) => (
        <g key={h + i}>
          <rect x={PANEL_LEFT[i]} y={31} width={PANEL_W} height={19} fill={stripFill} />
          <text x={PANEL_LEFT[i] + PANEL_W / 2} y={47.5} textAnchor="middle" fontSize={19} {...textProps}>
            {h}
          </text>
        </g>
      ))}
      <rect x={1228} y={51} width={26} height={205} fill={stripFill} />
      <text transform="translate(1247.5,153.5) rotate(-90)" textAnchor="middle" fontSize={20} {...textProps}>
        {MODELS[0]}
      </text>
      <rect x={1228} y={319} width={26} height={205} fill={stripFill} />
      <text transform="translate(1247.5,421.5) rotate(-90)" textAnchor="middle" fontSize={20} {...textProps}>
        {MODELS[1]}
      </text>

      {/* row tags */}
      <text x={10} y={22} fontSize={21} {...textProps}>
        (<tspan fontStyle="italic">a</tspan>)
      </text>
      <text x={9} y={313} fontSize={21} {...textProps}>
        (<tspan fontStyle="italic">b</tspan>)
      </text>

      {/* axis titles */}
      <text transform="translate(31,154) rotate(-90)" textAnchor="middle" fontSize={21} {...textProps}>
        thermal limit (°C)
      </text>
      <text transform="translate(31,423) rotate(-90)" textAnchor="middle" fontSize={21} {...textProps}>
        thermal limit (°C)
      </text>
      <text x={657} y={587} textAnchor="middle" fontSize={21} {...textProps}>
        absolute latitude (°)
      </text>

      {/* legend */}
      <text x={332} y={336} fontSize={21} {...textProps}>thermal limit type</text>
      <LegendKey x={331} y={360} metric="crit" color={RED} bg="#FFB3B3" />
      <text x={367} y={366} fontSize={21} {...textProps}>max</text>
      <LegendKey x={331} y={384} metric="crit" color={BLUE} bg="#C0DAEC" />
      <text x={367} y={391} fontSize={21} {...textProps}>min</text>

      <text x={332} y={429} fontSize={21} {...textProps}>limit metric</text>
      <LegendKey x={331} y={447} metric="crit" color="#000" />
      <text x={367} y={454} fontSize={21} {...textProps}>critical limits</text>
      <LegendKey x={331} y={472} metric="leth" color="#000" />
      <text x={367} y={479} fontSize={21} {...textProps}>lethal limits</text>
      <LegendKey x={331} y={494} metric="edge" color="#000" />
      <text x={367} y={501.5} fontSize={21} {...textProps}>edge of thermal</text>
      <text x={367} y={526} fontSize={21} {...textProps}>neutral zone</text>
    </svg>
  );
}

export default function App() {
  return (
    <div style={{ position: "absolute", left: 0, top: 0, width: 1252, height: 591, background: "#fff", fontFamily: FONT }}>
      {PANELS.map((p) => (
        <Panel key={`${p.row}-${p.col}`} cfg={p} />
      ))}
      <Overlay />
    </div>
  );
}
